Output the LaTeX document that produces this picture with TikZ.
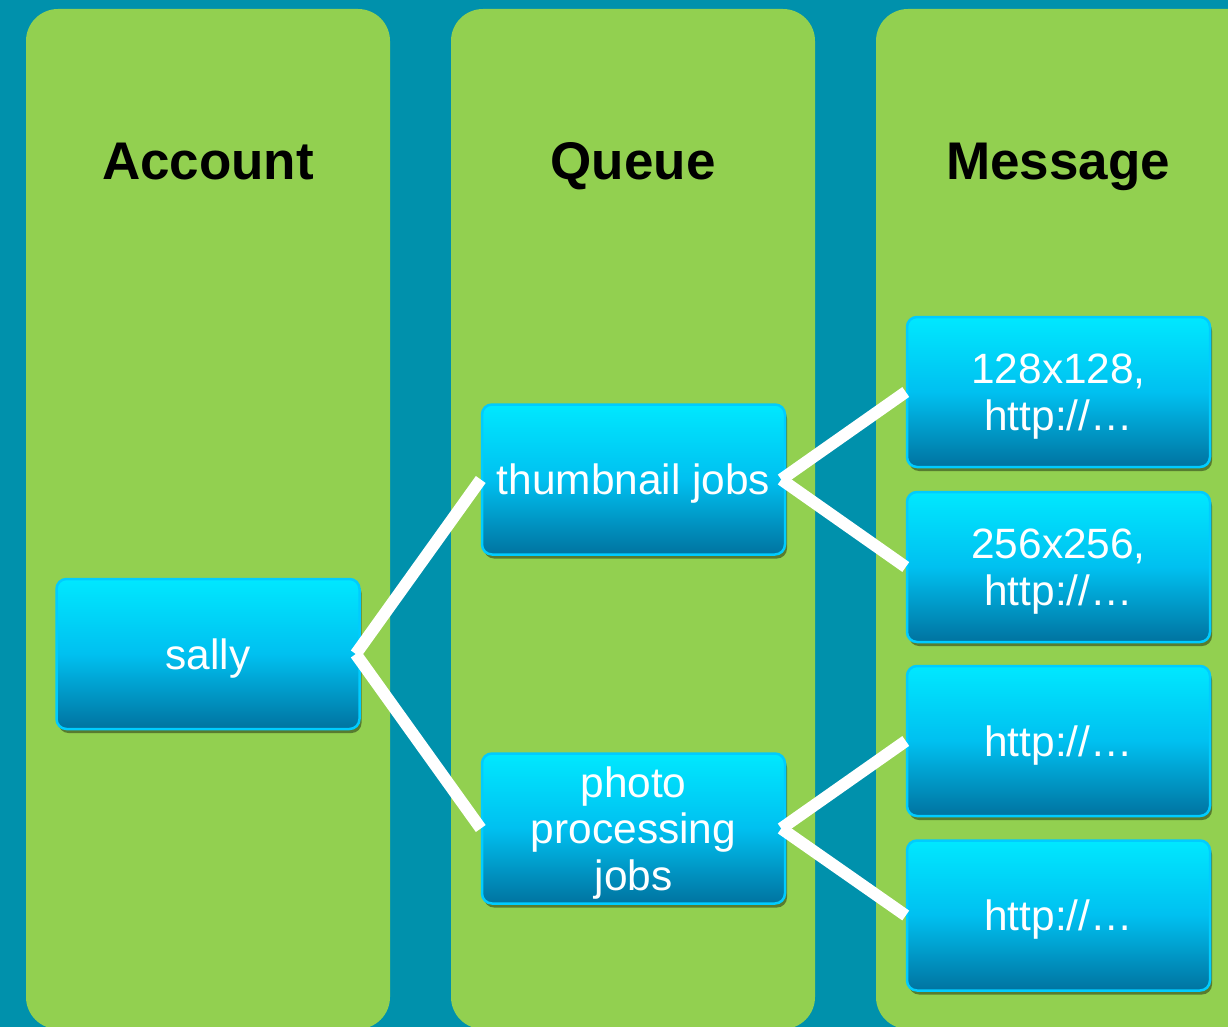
\documentclass[tikz,border=0pt]{standalone}
\usepackage{fontspec}
\setmainfont{Liberation Sans}
\usetikzlibrary{shadows}
\definecolor{bgteal}{RGB}{0,145,172}
\definecolor{colgreen}{RGB}{146,208,80}
\definecolor{boxtop}{RGB}{0,232,255}
\definecolor{boxmid}{RGB}{0,192,240}
\definecolor{boxbot}{RGB}{0,115,160}
\definecolor{boxedge}{RGB}{0,204,255}
\begin{document}
\begin{tikzpicture}[x=1pt,y=-1pt,
  column/.style={fill=colgreen, rounded corners=32pt},
  title/.style={font=\fontsize{53}{60}\selectfont\bfseries, text=black, anchor=base},
  item/.style={draw=boxedge, line width=2.5pt, rounded corners=10pt,
    top color=boxtop, bottom color=boxbot, middle color=boxmid,
    minimum width=303pt, minimum height=150pt, text=white, align=center,
    font=\fontsize{42.4}{46.5}\selectfont, inner sep=0pt, text depth=0pt,
    drop shadow={shadow xshift=2pt, shadow yshift=-4pt, opacity=0.4, fill=black}},
  link/.style={white, line width=12pt}]
\useasboundingbox (0,0) rectangle (1228,1027);
\fill[bgteal] (0,0) rectangle (1228,1027);
\begin{scope}
\clip (0,0) rectangle (1228,1027);
\fill[column] (26,9) rectangle (390,1029);
\fill[column] (451,9) rectangle (815,1029);
\fill[column] (876,9) rectangle (1260,1029);
\end{scope}
\node[title] (tacc) at (208,180) {Account};
\node[title] (tque) at (633,180) {Queue};
\node[title] (tmsg) at (1058,180) {Message};
\node[item] (sally) at (208,654) {sally};
\node[item] (thumb) at (633.5,479.5) {thumbnail jobs};
\node[item] (photo) at (633.5,828.5) {photo\\processing\\jobs};
\node[item] (m1) at (1058.5,392) {128x128,\\http://…};
\node[item] (m2) at (1058.5,567) {256x256,\\http://…};
\node[item] (m3) at (1058.5,741) {http://…};
\node[item] (m4) at (1058.5,915.5) {http://…};
\draw[link] ([xshift=-5pt]sally.east) -- (thumb.west);
\draw[link] ([xshift=-5pt]sally.east) -- (photo.west);
\draw[link] ([xshift=-5pt]thumb.east) -- (m1.west);
\draw[link] ([xshift=-5pt]thumb.east) -- (m2.west);
\draw[link] ([xshift=-5pt]photo.east) -- (m3.west);
\draw[link] ([xshift=-5pt]photo.east) -- (m4.west);
\end{tikzpicture}
\end{document}
